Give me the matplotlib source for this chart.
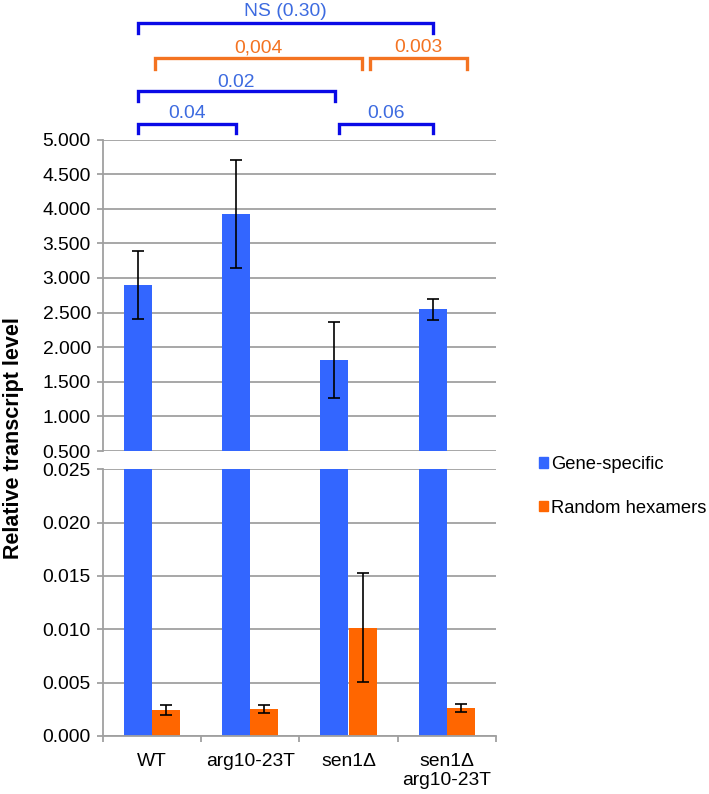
import numpy as np
import matplotlib
matplotlib.use('Agg')
import matplotlib.pyplot as plt
from matplotlib.patches import Patch
from matplotlib.transforms import blended_transform_factory

plt.rcParams['font.family'] = ['Liberation Sans', 'DejaVu Sans']

strains = ['WT', 'arg10-23T', 'sen1\u0394', 'sen1\u0394\narg10-23T']
gene_specific = [2.90, 3.925, 1.815, 2.545]
gene_specific_err = [0.49, 0.775, 0.55, 0.15]
random_hexamers = [0.00243, 0.00250, 0.01015, 0.00262]
random_hexamers_err = [0.00044, 0.00038, 0.0051, 0.00036]

# p-value brackets: left x, right x, level, label, series
brackets = [
    (-0.14, 2.86, 0, 'NS (0.30)', 'blue'),
    (0.03, 2.14, 1, '0,004', 'orange'),
    (2.22, 3.20, 1, '0.003', 'orange'),
    (-0.14, 1.86, 2, '0.02', 'blue'),
    (-0.14, 0.86, 3, '0.04', 'blue'),
    (1.90, 2.86, 3, '0.06', 'blue'),
]

W, H = 709, 794
BLUE = '#3366ff'
ORANGE = '#ff6600'
GRID = '#a0a0a0'
FS = 13.9

fig = plt.figure(figsize=(W / 100, H / 100), dpi=100)

left, right = 102.7 / W, 496 / W
ax_top = fig.add_axes([left, 1 - 451 / H, right - left, (451 - 139.5) / H])
ax_bot = fig.add_axes([left, 1 - 736 / H, right - left, (736 - 469.3) / H])

x = np.arange(len(strains))
w = 0.285
off = 0.143

for ax in (ax_top, ax_bot):
    ax.bar(x - off, gene_specific, w, color=BLUE, zorder=2)
    ax.bar(x + off, random_hexamers, w, color=ORANGE, zorder=2)
    ax.errorbar(x - off, gene_specific, yerr=gene_specific_err, fmt='none',
                ecolor='black', elinewidth=1.2, capsize=4, capthick=1.2, zorder=3)
    ax.errorbar(x + off, random_hexamers, yerr=random_hexamers_err, fmt='none',
                ecolor='black', elinewidth=1.2, capsize=4, capthick=1.2, zorder=3)
    ax.set_xlim(-0.5, 3.5)
    ax.yaxis.grid(True, color=GRID, linewidth=1.3, zorder=0)
    ax.set_axisbelow(True)
    for s in ('top', 'right'):
        ax.spines[s].set_visible(False)
    ax.spines['left'].set_color(GRID)
    ax.spines['left'].set_linewidth(1.3)
    ax.tick_params(axis='y', colors=GRID, length=4.5, width=1.3, labelsize=FS,
                   labelcolor='black', pad=4)

ax_top.set_ylim(0.5, 5.0)
ax_top.set_yticks(np.arange(0.5, 5.01, 0.5))
ax_top.set_yticklabels(['%.3f' % v for v in np.arange(0.5, 5.01, 0.5)])
ax_top.spines['bottom'].set_visible(False)
ax_top.set_xticks([])

ax_bot.set_ylim(0, 0.025)
ax_bot.set_yticks(np.arange(0, 0.0251, 0.005))
ax_bot.set_yticklabels(['%.3f' % v for v in np.arange(0, 0.0251, 0.005)])
ax_bot.spines['bottom'].set_color(GRID)
ax_bot.spines['bottom'].set_linewidth(1.3)
ax_bot.set_xticks(np.arange(-0.5, 3.6, 1.0))
ax_bot.set_xticklabels([])
ax_bot.set_xticks(x, minor=True)
ax_bot.set_xticklabels(strains, minor=True, fontsize=FS)
ax_bot.tick_params(axis='x', which='major', colors=GRID, length=4.5, width=1.3)
ax_bot.tick_params(axis='x', which='minor', length=0, pad=12)

fig.text(14 / W, 1 - 438 / H, 'Relative transcript level', rotation=90,
         fontsize=15.5, fontweight='bold', ha='center', va='center')

# significance brackets above the chart
line_y = [22.7, 58.3, 91, 124.3]
leg_y = [33.3, 69, 100.7, 132.7]
text_y = [11.7, 47.7, 82.3, 114]
line_col = {'blue': '#0a0ae6', 'orange': '#f47321'}
text_col = {'blue': '#3d6be0', 'orange': '#f47321'}
tr = blended_transform_factory(ax_top.transData, fig.transFigure)
for x0, x1, lev, lab, c in brackets:
    yl = 1 - line_y[lev] / H
    yb = 1 - leg_y[lev] / H
    ax_top.plot([x0, x0, x1, x1], [yb, yl, yl, yb], color=line_col[c], lw=2.4,
                transform=tr, clip_on=False, solid_joinstyle='miter')
    ax_top.text((x0 + x1) / 2, 1 - text_y[lev] / H, lab, color=text_col[c],
                fontsize=FS, ha='center', va='center', transform=tr)

handles = [Patch(color=BLUE, label='Gene-specific'),
           Patch(color=ORANGE, label='Random hexamers')]
fig.legend(handles=handles, loc='upper left', bbox_to_anchor=(539 / W, 1 - 456 / H),
           frameon=False, fontsize=13.2, handlelength=0.5, handleheight=0.5,
           handletextpad=0.15, labelspacing=1.45, borderaxespad=0, borderpad=0)

fig.savefig('out.png', dpi=100)
